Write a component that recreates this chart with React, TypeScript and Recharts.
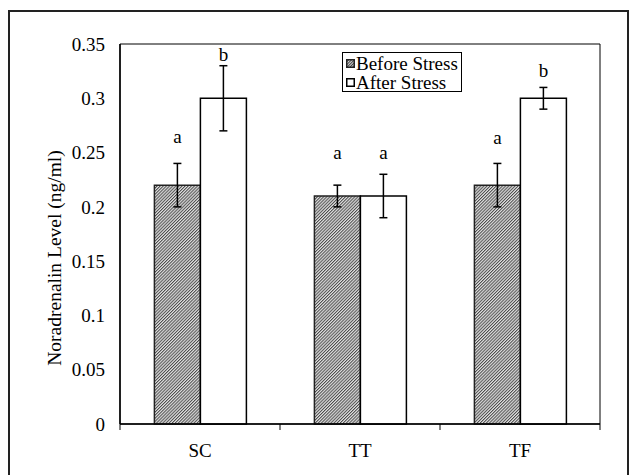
import React from "react";
import { BarChart, Bar, XAxis, YAxis, ErrorBar, LabelList, Legend, ReferenceArea } from "recharts";

const categories = ["SC", "TT", "TF"];
const beforeStress = [0.22, 0.21, 0.22];
const afterStress = [0.3, 0.21, 0.3];
const beforeErr = [0.02, 0.01, 0.02];
const afterErr = [0.03, 0.02, 0.01];
const beforeLetters = ["a", "a", "a"];
const afterLetters = ["b", "a", "b"];
// level (ng/ml) where each letter's baseline sits
const beforeLetterLevel = [0.259, 0.244, 0.258];
const afterLetterLevel = [0.334, 0.244, 0.32];
const yTicks = [0, 0.05, 0.1, 0.15, 0.2, 0.25, 0.3, 0.35];

const data = categories.map((name, i) => ({
  name,
  before: beforeStress[i],
  after: afterStress[i],
  beforeErr: beforeErr[i],
  afterErr: afterErr[i],
}));

const FONT = '"Liberation Serif", "Times New Roman", serif';

function letterContent(letters: string[], levels: number[]) {
  return (p: any) => {
    const vb = p.viewBox || {};
    const x = p.x ?? vb.x;
    const y = p.y ?? vb.y;
    const w = p.width ?? vb.width;
    const h = p.height ?? vb.height;
    const i = p.index;
    const v = Number(p.value);
    if (x == null || !v) return null;
    const base = y + h;
    const ty = base - (levels[i] * h) / v;
    return (
      <text x={x + w / 2} y={ty} textAnchor="middle" fontSize={19} fontFamily={FONT} fill="#000">
        {letters[i]}
      </text>
    );
  };
}

const XTick = (props: any) => {
  const { x, y, payload, index } = props;
  const half = payload && payload.offset ? payload.offset : 80;
  return (
    <g>
      <line x1={x - half} x2={x - half} y1={y} y2={y + 6} stroke="#000" strokeWidth={1} />
      {index === categories.length - 1 && (
        <line x1={x + half} x2={x + half} y1={y} y2={y + 6} stroke="#000" strokeWidth={1} />
      )}
      <text x={x} y={y + 33} textAnchor="middle" fontSize={19} fontFamily={FONT} fill="#000">
        {payload.value}
      </text>
    </g>
  );
};

const LegendBox = () => (
  <div
    style={{
      border: "1px solid #000",
      background: "#fff",
      width: 120,
      height: 40,
      boxSizing: "border-box",
      fontFamily: FONT,
      fontSize: 19,
      lineHeight: "19px",
      color: "#000",
      paddingLeft: 3,
      paddingTop: 1,
    }}
  >
    {[
      { label: "Before Stress", fill: "url(#hatchLegend)", stroke: "#222" },
      { label: "After Stress", fill: "#fff", stroke: "#000" },
    ].map((e) => (
      <div key={e.label} style={{ display: "flex", alignItems: "center", whiteSpace: "nowrap" }}>
        <svg width={9} height={9} style={{ marginRight: 1 }}>
          <defs>
            <pattern id="hatchLegend" width="2" height="2" patternUnits="userSpaceOnUse" patternTransform="rotate(45)">
              <rect width="2" height="2" fill="#d8d8d8" />
              <rect width="1" height="2" fill="#444" />
            </pattern>
          </defs>
          <rect x={0.75} y={0.75} width={7.5} height={7.5} fill={e.fill} stroke={e.stroke} strokeWidth={1.5} />
        </svg>
        <span>{e.label}</span>
      </div>
    ))}
  </div>
);

export default function App() {
  return (
    <div
      style={{
        position: "absolute",
        left: 8,
        top: 10,
        width: 617,
        height: 470,
        borderTop: "2px solid #222",
        borderLeft: "2px solid #222",
        borderRight: "2px solid #222",
        background: "#fff",
        fontFamily: FONT,
      }}
    >
      <BarChart
        width={617}
        height={470}
        data={data}
        margin={{ top: 32, right: 27, left: 0, bottom: 0 }}
        barCategoryGap="21.5%"
        barGap={0}
      >
        <defs>
          <pattern id="hatch" width="2.2" height="2.2" patternUnits="userSpaceOnUse" patternTransform="rotate(45)">
            <rect width="2.2" height="2.2" fill="#e2e2e2" />
            <rect width="1" height="2.2" fill="#4a4a4a" />
          </pattern>
        </defs>
        <ReferenceArea y1={0} y2={0.35} fill="none" stroke="#000" strokeWidth={1} ifOverflow="visible" />
        <XAxis
          dataKey="name"
          height={58}
          axisLine={{ stroke: "#000", strokeWidth: 1.5 }}
          tickLine={false}
          tickSize={0}
          tickMargin={0}
          tick={<XTick />}
          interval={0}
        />
        <YAxis
          width={110}
          domain={[0, 0.35]}
          ticks={yTicks}
          interval={0}
          axisLine={{ stroke: "#000", strokeWidth: 1.5 }}
          tickLine={false}
          tickSize={6}
          tickMargin={9}
          tickFormatter={(v: number) => String(v)}
          tick={{ fill: "#000", fontSize: 19, fontFamily: FONT }}
          label={{
            content: (p: any) => {
              const vb = p.viewBox || { x: 0, y: 32, width: 110, height: 380 };
              const cx = vb.x + 51;
              const cy = vb.y + vb.height / 2 + 24;
              return (
                <text
                  x={cx}
                  y={cy}
                  transform={`rotate(-90 ${cx} ${cy})`}
                  textAnchor="middle"
                  fontSize={19.5}
                  fontFamily={FONT}
                  fill="#000"
                >
                  Noradrenalin Level (ng/ml)
                </text>
              );
            },
          }}
        />
        <Legend
          layout="vertical"
          align="center"
          verticalAlign="middle"
          content={<LegendBox />}
          wrapperStyle={{ position: "absolute", left: 332, top: 40, width: 120 }}
        />
        <Bar dataKey="before" fill="url(#hatch)" stroke="#222" strokeWidth={1.5} isAnimationActive={false}>
          <ErrorBar dataKey="beforeErr" width={4} stroke="#000" strokeWidth={1.5} direction="y" isAnimationActive={false} />
          <LabelList dataKey="before" content={letterContent(beforeLetters, beforeLetterLevel)} />
        </Bar>
        <Bar dataKey="after" fill="#fff" stroke="#000" strokeWidth={1.5} isAnimationActive={false}>
          <ErrorBar dataKey="afterErr" width={4} stroke="#000" strokeWidth={1.5} direction="y" isAnimationActive={false} />
          <LabelList dataKey="after" content={letterContent(afterLetters, afterLetterLevel)} />
        </Bar>
      </BarChart>
    </div>
  );
}
